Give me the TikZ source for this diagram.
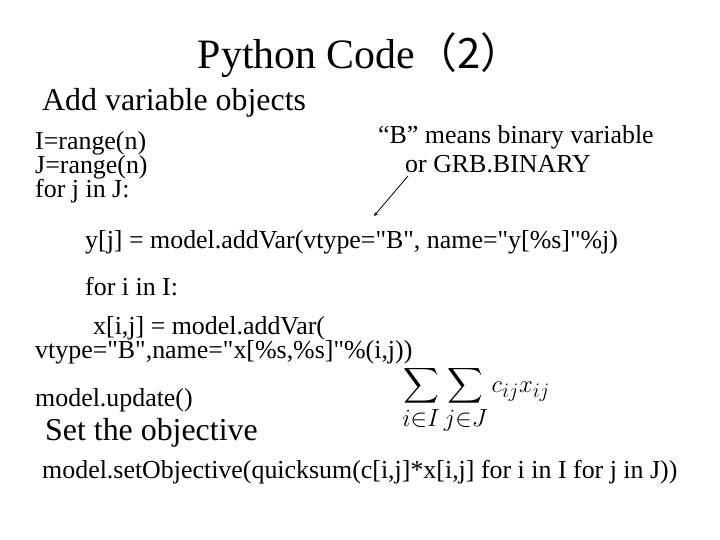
\documentclass[tikz,border=0pt]{standalone}
\usepackage{fontspec}
\setmainfont{Liberation Serif}
\newfontfamily\plainq{Liberation Serif}[Ligatures=TeXOff]
\newfontfamily\cjk{Noto Sans CJK JP}
\usepackage{amsmath}
\newcommand{\dq}{{\plainq\symbol{34}}}
\begin{document}
\begin{tikzpicture}[x=1bp,y=-1bp,
  txt/.style={anchor=west,inner sep=0pt,font=\fontsize{26}{28}\selectfont},
  head/.style={anchor=west,inner sep=0pt,font=\fontsize{32}{35}\selectfont}]
\useasboundingbox (0,0) rectangle (720,540);
\node[inner sep=0pt,font=\fontsize{42}{46}\selectfont] (title) at (360,55) {Python Code{\cjk （2）}};
\node[head] (add) at (42,103) {Add variable objects};
\node[txt] (l1) at (35,143) {I=range(n)};
\node[txt] (l2) at (35,167) {J=range(n)};
\node[txt] (l3) at (35,191) {for j in J:};
\node[txt] (b1) at (378,137) {“B” means binary variable};
\node[txt] (b2) at (405,164) {or GRB.BINARY};
\node[txt] (y) at (85,242) {y[j] = model.addVar(vtype=\dq B\dq, name=\dq y[\%s]\dq\%j)};
\node[txt] (fi) at (85,287) {for i in I:};
\node[txt] (x1) at (93,328) {x[i,j] = model.addVar(};
\node[txt] (x2) at (35,352) {vtype=\dq B\dq,name=\dq x[\%s,\%s]\dq\%(i,j))};
\node[txt] (up) at (35,400) {model.update()};
\node[head] (obj) at (45,433) {Set the objective};
\node[txt] (so) at (42,472) {model.setObjective(quicksum(c[i,j]*x[i,j] for i in I for j in J))};
\node[inner sep=0pt,font=\fontsize{42}{45}\selectfont] (f) at (476,400) {$\displaystyle\sum_{i\in I}\sum_{j\in J} {\scriptstyle c_{ij}x_{ij}}$};
\coordinate (a0) at (408,176);
\coordinate (a1) at (374,216);
\draw[-stealth,thick] (a0) -- (a1);
\end{tikzpicture}
\end{document}
